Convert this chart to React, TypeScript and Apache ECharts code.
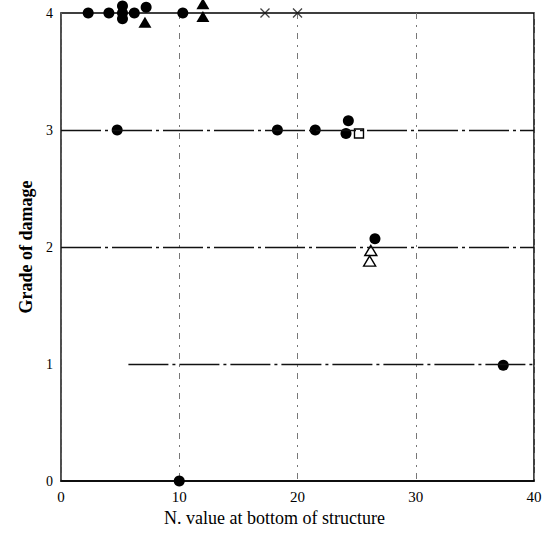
import React, { useEffect, useRef } from "react";
import * as echarts from "echarts";

const xTicks = [0, 10, 20, 30, 40];
const yTicks = [0, 1, 2, 3, 4];

// filled circles [N value, grade]
const filledCircles: number[][] = [
  [2.3, 4.0], [4.05, 4.0], [5.2, 4.06], [5.2, 4.0], [5.2, 3.95], [6.2, 4.0], [7.2, 4.05], [10.3, 4.0],
  [4.75, 3.0], [18.3, 3.0], [21.5, 3.0], [24.3, 3.08], [24.1, 2.97],
  [26.55, 2.07],
  [37.4, 0.99],
  [10.0, 0.0],
];
// filled triangles
const filledTriangles: number[][] = [
  [7.1, 3.92], [12.0, 4.08], [12.0, 3.97],
];
// crosses
const crosses: number[][] = [
  [17.25, 4.0], [20.0, 4.0],
];
// open squares
const openSquares: number[][] = [
  [25.2, 2.97],
];
// open triangles
const openTriangles: number[][] = [
  [26.2, 1.97], [26.1, 1.88],
];
// horizontal reference lines [startX, endX, y]
const hLines: number[][] = [
  [0, 40, 3], [0, 40, 2], [5.7, 40, 1],
];

const serif = "'Liberation Serif', 'DejaVu Serif', serif";

export default function App() {
  const ref = useRef<HTMLDivElement>(null);
  useEffect(() => {
    if (!ref.current) return;
    const chart = echarts.init(ref.current, undefined, { renderer: "svg" });
    chart.setOption({
      animation: false,
      backgroundColor: "#fff",
      grid: { left: 61, right: 24, top: 13, bottom: 55, show: true, borderColor: "#000", borderWidth: 1.5, backgroundColor: "transparent" },
      xAxis: {
        type: "value", min: 0, max: 40, interval: 10,
        name: "N. value at bottom of structure", nameLocation: "middle", nameGap: 27,
        nameTextStyle: { fontFamily: serif, fontSize: 18, color: "#000", padding: [0, 46, 0, 0] },
        axisLine: { lineStyle: { color: "#000", width: 1.5 } },
        axisTick: { show: false },
        axisLabel: { fontFamily: serif, fontSize: 15, color: "#000", margin: 8 },
        splitLine: { show: true, lineStyle: { color: "#777", width: 1, type: [6, 6, 2, 6] } },
      },
      yAxis: {
        type: "value", min: 0, max: 4, interval: 1,
        name: "Grade of damage", nameLocation: "middle", nameGap: 23,
        nameTextStyle: { fontFamily: serif, fontSize: 18, fontWeight: "bold", color: "#000" },
        axisLine: { lineStyle: { color: "#555", width: 1.5 } },
        axisTick: { show: false },
        axisLabel: { fontFamily: serif, fontSize: 14, color: "#000", margin: 8 },
        splitLine: { show: false },
      },
      series: [
        {
          type: "line", data: [], silent: true,
          markLine: {
            symbol: "none", silent: true, label: { show: false },
            lineStyle: { color: "#111", width: 1.3, type: [40, 4, 3, 4] },
            data: hLines.map((h) => [{ coord: [h[0], h[2]] }, { coord: [h[1], h[2]] }]),
          },
        },
        { type: "scatter", clip: false, data: crosses, symbol: "path://M0,0L10,10M10,0L0,10", symbolSize: 9, itemStyle: { color: "none", borderColor: "#111", borderWidth: 1.3 } },
        { type: "scatter", clip: false, data: filledCircles, symbol: "circle", symbolSize: 11, itemStyle: { color: "#000", opacity: 1 } },
        { type: "scatter", clip: false, data: filledTriangles, symbol: "triangle", symbolSize: [13, 11], itemStyle: { color: "#000", opacity: 1 } },
        { type: "scatter", clip: false, data: openSquares, symbol: "rect", symbolSize: 9, itemStyle: { color: "#fff", borderColor: "#000", borderWidth: 1.4, opacity: 1 } },
        { type: "scatter", clip: false, data: openTriangles, symbol: "triangle", symbolSize: [12, 10], itemStyle: { color: "#fff", borderColor: "#000", borderWidth: 1.4, opacity: 1 } },
      ],
    });
    return () => chart.dispose();
  }, []);
  return <div ref={ref} style={{ width: 558, height: 536, position: "absolute", left: 0, top: 0 }} />;
}
